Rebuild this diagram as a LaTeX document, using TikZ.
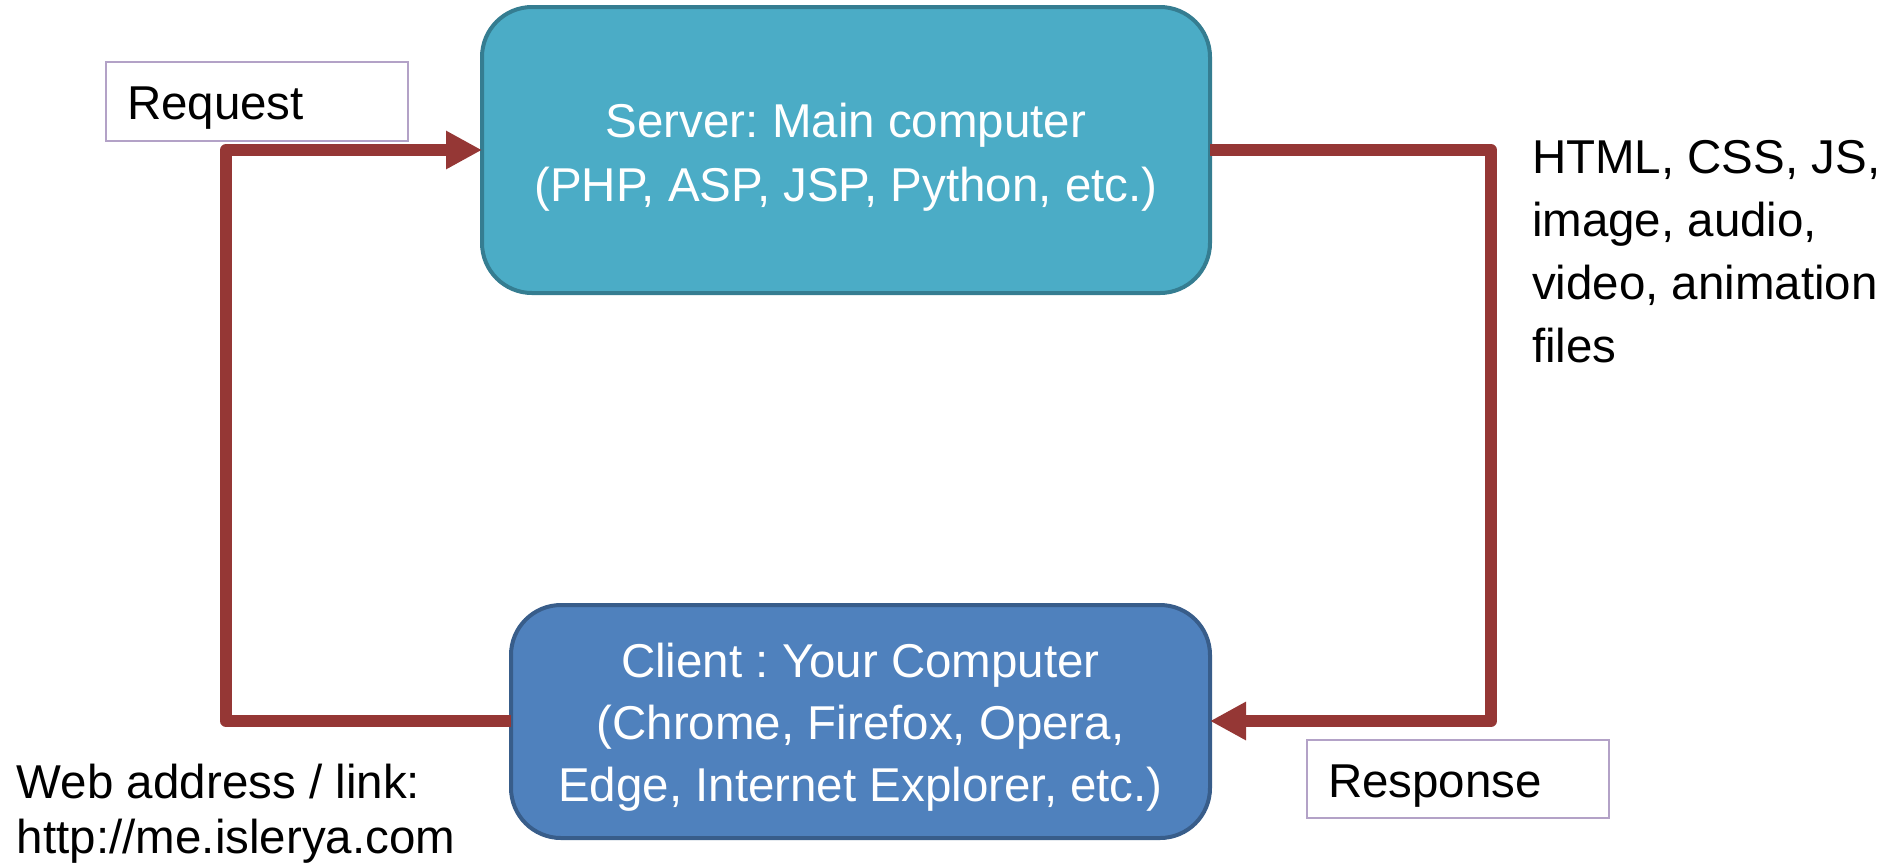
\documentclass[tikz,border=0pt]{standalone}
\usepackage{fontspec}
\setmainfont{Liberation Sans}
\usetikzlibrary{arrows.meta}
\definecolor{srvfill}{HTML}{4BACC6}
\definecolor{srvline}{HTML}{357D91}
\definecolor{clifill}{HTML}{4F81BD}
\definecolor{cliline}{HTML}{385D8A}
\definecolor{conn}{HTML}{953735}
\definecolor{lblline}{HTML}{B3A2C7}
\begin{document}
\frenchspacing
\begin{tikzpicture}[x=0.5pt,y=-0.5pt,
  every node/.style={font=\fontsize{23.75pt}{32pt}\selectfont, inner sep=0pt, outer sep=0pt},
  bigbox/.style={draw, line width=2pt, rounded corners=25pt},
  boxtext/.style={text=white, align=center},
  lblbox/.style={draw=lblline, line width=1pt, fill=white},
  connector/.style={draw=conn, line width=6pt, line join=round},
  tip/.style={-{Triangle[length=18pt,width=18pt]}}
]
\useasboundingbox (0,0) rectangle (1891,864);

\node[bigbox, fill=srvfill, draw=srvline, minimum width=364pt, minimum height=143pt] (server) at (846,150) {};
\node[boxtext] (servertext) at (846,157)
  {Server: Main computer\\(PHP, ASP, JSP, Python, etc.)};
\node[bigbox, fill=clifill, draw=cliline, minimum width=349.5pt, minimum height=116.5pt] (client) at (860.5,721.5) {};
\node[boxtext, font=\fontsize{23.75pt}{31pt}\selectfont] (clienttext) at (860.5,727)
  {Client : Your Computer\\(Chrome, Firefox, Opera,\\Edge, Internet Explorer, etc.)};

\node[lblbox, minimum width=151pt, minimum height=39.5pt] (reqbox) at (257,101.5) {};
\node[anchor=base west] (req) at (127,119) {Request};
\node[lblbox, minimum width=151pt, minimum height=39pt] (resbox) at (1458,779) {};
\node[anchor=base west] (res) at (1328,797) {Response};

\node[anchor=north west, align=left, font=\fontsize{23.75pt}{31.5pt}\selectfont] (files) at (1532,140)
  {HTML, CSS, JS,\\image, audio,\\video, animation\\files};
\node[anchor=north west, align=left, font=\fontsize{23.75pt}{27.5pt}\selectfont] (web) at (17,764)
  {Web address / link:\\http://me.islerya.com};

\coordinate (lc1) at (226,721);
\coordinate (lc2) at (226,150);
\coordinate (rc1) at (1491,150);
\coordinate (rc2) at (1491,721);

\draw[connector, tip] (client.west |- lc1) -- (lc1) -- (lc2) -- (server.west |- lc2);
\draw[connector, tip] (server.east |- rc1) -- (rc1) -- (rc2) -- (client.east |- rc2);
\end{tikzpicture}
\end{document}
